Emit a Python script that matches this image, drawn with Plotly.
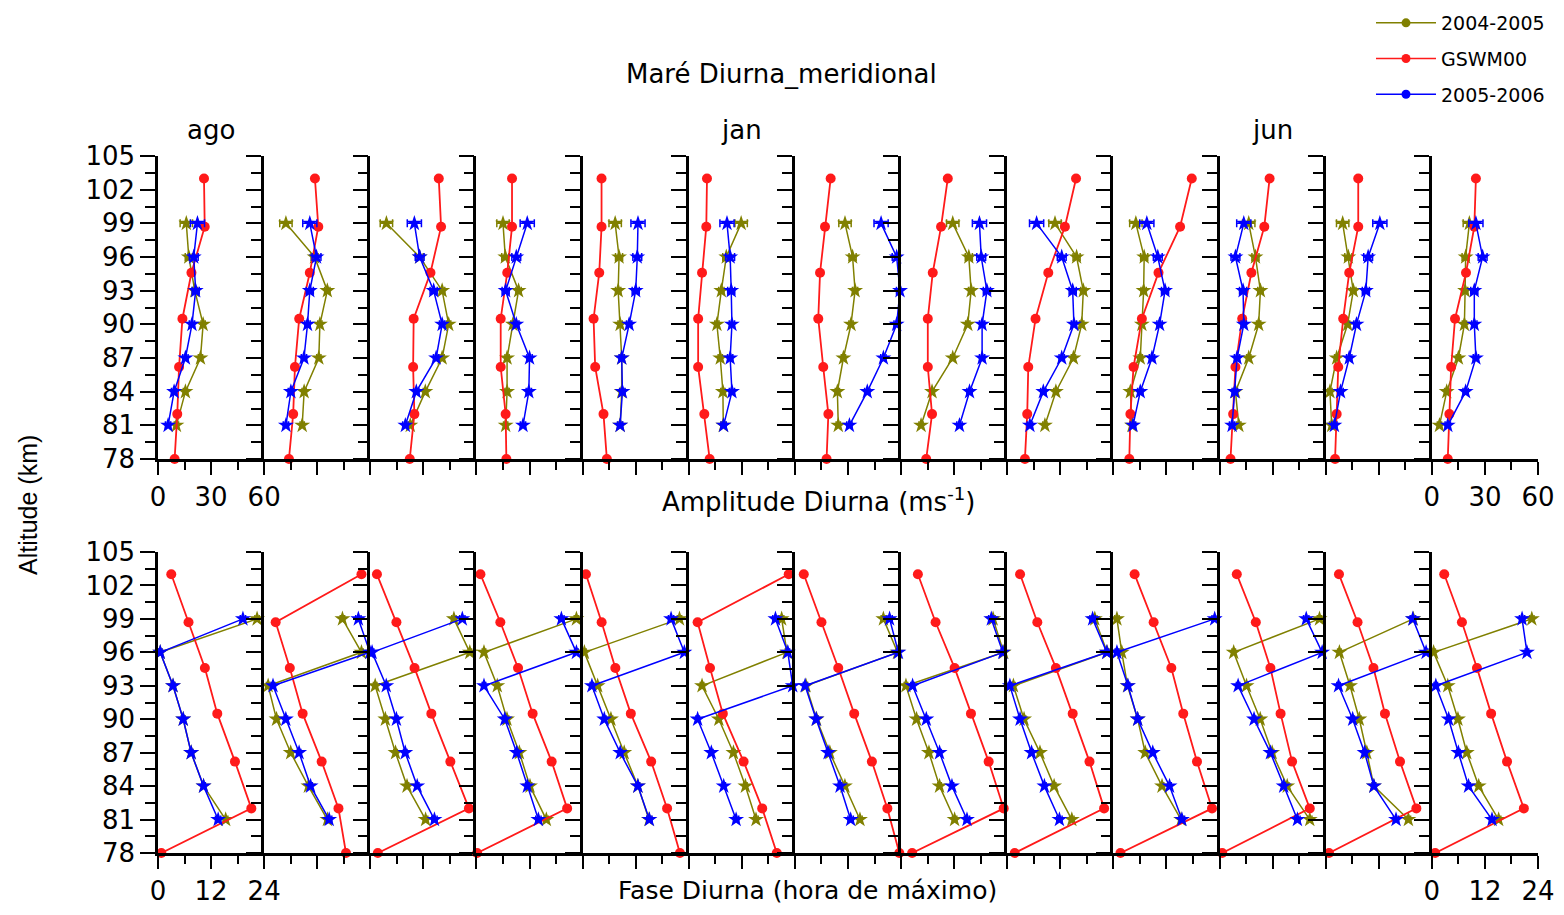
import plotly.graph_objects as go

# ---------------- data ----------------
month_labels = ["ago", "", "", "", "", "jan", "", "", "", "", "jun", "", ""]
alt_obs = [81, 84, 87, 90, 93, 96, 99]
alt_gswm = [78, 82, 86.2, 90.5, 94.6, 98.7, 103]

series_names = ["2004-2005", "GSWM00", "2005-2006"]
amp_ticks = [0, 30, 60]
phase_ticks = [0, 12, 24]
alt_ticks = [78, 81, 84, 87, 90, 93, 96, 99, 102, 105]

# amplitude (m/s), one row per month panel
amp_0405 = [
    [10.4, 15.5, 24, 25.5, 20.8, 17.4, 16],
    [21.5, 22.6, 30.9, 31.5, 35.7, 28.5, 12.3],
    [22.6, 31.1, 40.6, 44.3, 40.6, 27.9, 9.1],
    [16.5, 17.3, 17.3, 20.6, 23.8, 16.3, 15],
    [21.2, 22.1, 22.1, 21.2, 20.1, 20.6, 18.4],
    [19.5, 19.3, 17.8, 15.9, 18.4, 21.2, 29.6],
    [24.5, 24, 27.4, 31.7, 34, 32.6, 28.3],
    [11.3, 17.5, 29.2, 37.7, 39.6, 38.3, 29.2],
    [21.3, 27.5, 37.4, 42.1, 43, 39.2, 27],
    [10.5, 9.6, 15.2, 16.1, 17.1, 17.4, 12.7],
    [10.9, 9, 16.5, 22.1, 23.1, 20.3, 16.5],
    [3.4, 2.4, 6.2, 12.4, 15.6, 12.8, 9.6],
    [4.3, 8.4, 15, 18.4, 18.8, 19.1, 21.2],
]
amp_gswm = [
    [9.4, 10.9, 11.9, 13.8, 18.9, 26.4, 26],
    [14, 16.4, 17.4, 19.8, 25.8, 30.6, 28.7],
    [22.3, 24.9, 24.2, 24.5, 34, 40, 38.7],
    [16.9, 16.5, 13.7, 13.7, 17.4, 20.1, 20.1],
    [13.7, 11.8, 7.1, 6.2, 9.4, 10.7, 10.7],
    [11.8, 8.8, 5.3, 5.3, 7.5, 9.9, 10.3],
    [17.9, 18.9, 16, 13.2, 14.2, 17, 20.2],
    [14.2, 17.5, 15.1, 15.1, 17.9, 22.6, 26.4],
    [10, 11.3, 11.9, 16, 23.2, 32.6, 38.9],
    [9, 9.6, 11.4, 16.1, 25.5, 37.7, 44.3],
    [6.2, 7.7, 9, 12.8, 18, 25.3, 28.3],
    [5.3, 6.2, 7.1, 9.9, 13.3, 18.4, 18.4],
    [9, 9.9, 10.9, 13.1, 19.3, 24, 24.9],
]
amp_0506 = [
    [5.7, 9.1, 15.5, 19.2, 21.3, 20.2, 22.3],
    [12.3, 15.1, 22.5, 24.5, 25.8, 29.6, 25.8],
    [19.8, 26, 37.2, 40.6, 35.8, 27.9, 24.9],
    [26.3, 29.6, 30, 22.5, 16.5, 22.5, 28.7],
    [21.2, 22.5, 22.1, 26.3, 30, 30.9, 31.3],
    [19.7, 24.4, 23.4, 24.4, 24, 23.4, 21.6],
    [30.8, 40.9, 50, 57.5, 59.4, 57.5, 48.7],
    [33, 38.7, 45.8, 45.8, 48.5, 45.3, 44.3],
    [12.8, 20.4, 30.8, 37.7, 37, 30.8, 16.6],
    [11.1, 15.2, 21.8, 26.1, 29.2, 25.1, 18.9],
    [7.1, 8.6, 9.9, 13.7, 13.3, 9, 13.7],
    [4.9, 8.4, 13.3, 17.4, 22.7, 24, 30.6],
    [9, 19.1, 24.9, 24, 24, 28.7, 24.9],
]
amp_err_0405 = [1.2, 1.2, 1.2, 1.2, 1.5, 2.0, 3.5]
amp_err_0506 = [1.5, 1.5, 1.5, 1.5, 2.0, 2.5, 4.0]

# phase (hour of maximum)
ph_0405 = [
    [15.3, 10.3, 7.5, 5.7, 3.4, 0.5, 22.4],
    [14.3, 10, 6, 2.8, 0.9, 22, 17.7],
    [12.5, 8.3, 5.7, 3.4, 1.1, 22.5, 18.9],
    [15.8, 12.1, 9.7, 6.9, 4.7, 1.7, 22.6],
    [15.0, 12.5, 9.4, 6.4, 3.4, 0.4, 21.9],
    [15.2, 12.8, 10.1, 6.8, 3.0, 22.2, 21],
    [14.7, 11.3, 7.9, 4.9, 2.5, 23.2, 20],
    [12.1, 8.7, 6.3, 3.5, 1.1, 23.2, 20.8],
    [14.6, 10.6, 7.4, 3.8, 1.4, 22.6, 19.8],
    [15.3, 11, 7.2, 5.5, 3.2, 1.9, 0.8],
    [20.4, 15.3, 11.9, 9.2, 6.1, 3.2, 22.6],
    [18.7, 10.9, 9.3, 7.6, 5.5, 3.1, 19.8],
    [15.1, 10.6, 7.9, 5.9, 3.6, 0.4, 22.6],
]
ph_gswm = [
    [0.75, 21.1, 17.4, 13.4, 10.6, 6.9, 3.0],
    [18.5, 16.8, 13, 8.7, 5.8, 2.6, 22],
    [1.7, 22.3, 18.1, 13.8, 10, 5.9, 1.5],
    [0.15, 20.5, 17, 12.7, 9.4, 5.4, 0.9],
    [22, 19.1, 15.5, 10.9, 7.4, 4.3, 0.75],
    [19.9, 16.6, 12.4, 7.7, 4.8, 2.0, 22.6],
    [23.6, 20.9, 17.4, 13.4, 9.8, 6.0, 2.0],
    [2.5, 23.2, 19.8, 15.8, 12.1, 7.8, 3.8],
    [1.7, 21.9, 18.6, 14.8, 11, 6.8, 2.9],
    [1.6, 22.3, 18.9, 15.8, 13.1, 9.1, 4.8],
    [0.6, 20.4, 16.4, 13.8, 11.5, 8.2, 3.9],
    [0.75, 20.5, 16.8, 13.4, 10.8, 7.2, 3.0],
    [0.75, 20.8, 17, 13.4, 10.2, 6.8, 2.8],
]
ph_0506 = [
    [13.6, 10.3, 7.5, 5.7, 3.4, 0.5, 19.2],
    [14.7, 10.5, 7.9, 4.9, 2.0, 23.9, 21.3],
    [14.5, 10.6, 7.9, 5.9, 3.6, 0.4, 20.8],
    [14, 11.5, 9.1, 6.4, 1.7, 22.6, 19.2],
    [15.1, 12.5, 8.5, 4.9, 2.1, 23, 20],
    [10.7, 7.9, 5.1, 2.0, 23.5, 22.4, 19.6],
    [12.6, 10.2, 7.5, 4.8, 2.3, 23.4, 21.4],
    [14.9, 11.5, 8.7, 5.7, 2.6, 23, 20.4],
    [11.8, 8.4, 5.5, 2.9, 0.6, 22.5, 19.3],
    [15.5, 12.7, 8.9, 5.5, 3.3, 0.8, 22.9],
    [17.6, 14.5, 11.5, 7.8, 4.2, 23.2, 19.6],
    [15.9, 10.9, 8.8, 6.1, 2.9, 22.7, 19.7],
    [13.6, 8.3, 6.0, 3.8, 0.9, 21.5, 20.4],
]
ph_err_0405 = [0.5, 0.4, 0.4, 0.4, 0.4, 0.4, 0.5]
ph_err_0506 = [0.6, 0.4, 0.4, 0.4, 0.4, 0.4, 0.6]

# ---------------- styling ----------------
WIN_W, WIN_H = 1564, 915
OFF = 8                      # default page body margin
W, H = WIN_W - 2 * OFF, WIN_H - 2 * OFF


def px_x(X):
    return (X - OFF) / W


def px_y(Y):
    return 1 - (Y - OFF) / H


C_OLIVE = "#808000"
C_RED = "#ff1a1a"
C_BLUE = "#0000ff"
series_colors = [C_OLIVE, C_RED, C_BLUE]
FONT_H = "DejaVu Sans"
FONT_V = "Liberation Sans"

n_panels = len(month_labels)
left_px, right_px = 158, 1538
pw = (right_px - left_px) / n_panels
rows = [
    dict(top=156, bottom=459, vals=(amp_0405, amp_gswm, amp_0506),
         errs=(amp_err_0405, amp_err_0506), xmax=60, minor=15, ticks=amp_ticks),
    dict(top=552, bottom=853, vals=(ph_0405, ph_gswm, ph_0506),
         errs=(ph_err_0405, ph_err_0506), xmax=24, minor=6, ticks=phase_ticks),
]

fig = go.Figure()
layout_axes = {}
annotations = []

for r, row in enumerate(rows):
    ydom = [px_y(row["bottom"]), px_y(row["top"])]
    for c in range(n_panels):
        k = r * n_panels + c + 1
        xa = "x" if k == 1 else f"x{k}"
        ya = "y" if k == 1 else f"y{k}"
        xdom = [px_x(left_px + c * pw), px_x(left_px + (c + 1) * pw)]
        show_x_lbl = c in (0, n_panels - 1)
        layout_axes[("xaxis" if k == 1 else f"xaxis{k}")] = dict(
            domain=xdom, anchor=ya, range=[0, row["xmax"]],
            showline=True, linecolor="black", linewidth=2.5,
            ticks="outside", ticklen=13, tickwidth=2, tickcolor="black",
            tickmode="array", tickvals=row["ticks"],
            ticktext=[str(t) for t in row["ticks"]],
            showticklabels=show_x_lbl,
            minor=dict(ticks="outside", dtick=row["minor"], tick0=0, ticklen=8,
                       tickwidth=2, tickcolor="black", showgrid=False),
            showgrid=False, zeroline=False, automargin=False,
            tickfont=dict(family=FONT_H, size=26, color="black"),
            fixedrange=True,
        )
        layout_axes[("yaxis" if k == 1 else f"yaxis{k}")] = dict(
            domain=ydom, anchor=xa, range=[78, 105],
            showline=True, linecolor="black", linewidth=2.5,
            ticks="outside", ticklen=15, tickwidth=2, tickcolor="black",
            tickmode="array", tickvals=alt_ticks,
            ticktext=[str(t) for t in alt_ticks],
            showticklabels=(c == 0),
            minor=dict(ticks="outside", dtick=1.5, tick0=78, ticklen=10,
                       tickwidth=2, tickcolor="black", showgrid=False),
            showgrid=False, zeroline=False, automargin=False,
            tickfont=dict(family=FONT_H, size=26, color="black"),
            fixedrange=True,
        )

        v0405, vgswm, v0506 = (row["vals"][0][c], row["vals"][1][c], row["vals"][2][c])
        e0405, e0506 = row["errs"]
        fig.add_trace(go.Scatter(
            x=v0405, y=alt_obs, xaxis=xa, yaxis=ya, mode="lines+markers",
            name=series_names[0], showlegend=False,
            line=dict(color=C_OLIVE, width=1.5),
            marker=dict(symbol="star", size=12, color=C_OLIVE),
            error_x=dict(type="data", array=e0405, color=C_OLIVE, thickness=1.5, width=4),
            cliponaxis=False,
        ))
        fig.add_trace(go.Scatter(
            x=vgswm, y=alt_gswm, xaxis=xa, yaxis=ya, mode="lines+markers",
            name=series_names[1], showlegend=False,
            line=dict(color=C_RED, width=1.8),
            marker=dict(symbol="circle", size=10, color=C_RED),
            cliponaxis=False,
        ))
        fig.add_trace(go.Scatter(
            x=v0506, y=alt_obs, xaxis=xa, yaxis=ya, mode="lines+markers",
            name=series_names[2], showlegend=False,
            line=dict(color=C_BLUE, width=1.5),
            marker=dict(symbol="star", size=12, color=C_BLUE),
            error_x=dict(type="data", array=e0506, color=C_BLUE, thickness=1.5, width=4),
            cliponaxis=False,
        ))

        if r == 0 and month_labels[c]:
            annotations.append(dict(
                text=month_labels[c], xref=f"{xa} domain", x=0.5,
                yref="paper", y=px_y(130), xanchor="center", yanchor="middle",
                showarrow=False, font=dict(family=FONT_H, size=26, color="black"),
            ))

# legend entries (circle symbols, as in the reference legend)
for i, name in enumerate(series_names):
    fig.add_trace(go.Scatter(
        x=[None], y=[None], xaxis="x", yaxis="y", mode="lines+markers",
        name=name, legendgroup=f"g{i}", showlegend=True,
        line=dict(color=series_colors[i], width=1.5),
        marker=dict(symbol="circle", size=9, color=series_colors[i]),
    ))

annotations += [
    dict(text="Maré Diurna_meridional", xref="paper", yref="paper",
         x=px_x(781), y=px_y(74), xanchor="center", yanchor="middle", showarrow=False,
         font=dict(family=FONT_H, size=26, color="black")),
    dict(text="Amplitude Diurna (ms<sup>-1</sup>)", xref="paper", yref="paper",
         x=px_x(818), y=px_y(500), xanchor="center", yanchor="middle", showarrow=False,
         font=dict(family=FONT_H, size=26, color="black")),
    dict(text="Fase Diurna (hora de máximo)", xref="paper", yref="paper",
         x=px_x(808), y=px_y(890), xanchor="center", yanchor="middle", showarrow=False,
         font=dict(family=FONT_H, size=25, color="black")),
    dict(text="Altitude (km)", xref="paper", yref="paper", textangle=-90,
         x=px_x(28), y=px_y(505), xanchor="center", yanchor="middle", showarrow=False,
         font=dict(family=FONT_V, size=25, color="black")),
]

fig.update_layout(
    width=W, height=H,
    margin=dict(l=0, r=0, t=0, b=0, autoexpand=False),
    paper_bgcolor="white", plot_bgcolor="white",
    annotations=annotations,
    showlegend=True,
    legend=dict(x=px_x(1550), y=px_y(4), xanchor="right", yanchor="top",
                font=dict(family=FONT_H, size=19, color="black"),
                bgcolor="rgba(0,0,0,0)", tracegroupgap=8, traceorder="grouped",
                itemwidth=60),
    **layout_axes,
)

fig.write_html("out.html")
